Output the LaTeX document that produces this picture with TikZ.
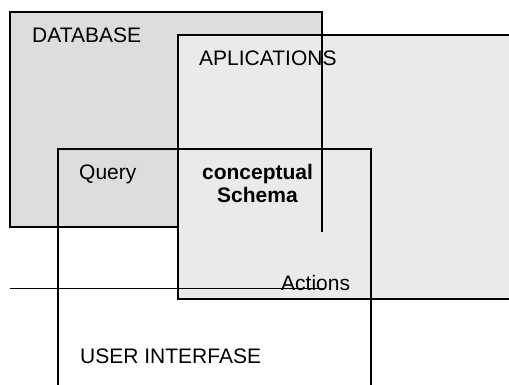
\documentclass[tikz,border=0pt]{standalone}
\usepackage{fontspec}
\setmainfont{Liberation Sans}
\definecolor{dbgray}{RGB}{221,221,221}
\definecolor{appgray}{RGB}{234,234,234}
\begin{document}
\begin{tikzpicture}[x=1pt,y=-1pt,
  box/.style={draw=black,line width=1.6pt,inner sep=0pt,outer sep=0pt,anchor=north west},
  lbl/.style={inner sep=0pt,anchor=base west,font=\fontsize{21}{24}\selectfont},
  edge/.style={draw=black,line width=1.6pt}]
\useasboundingbox (0,0) rectangle (509,385);
\clip (0,0) rectangle (509,385);
\fill[white] (0,0) rectangle (509,385);
\node[box,fill=dbgray,minimum width=312pt,minimum height=215pt] (db) at (10,12) {};
\node[box,fill=appgray,minimum width=345pt,minimum height=264pt] (app) at (178,35) {};
\coordinate (dbtr) at (322,12);
\coordinate (dbend) at (322,232);
\draw[edge] (dbtr) -- (dbend);
\coordinate (hl) at (10,288.5);
\coordinate (hr) at (325,288.5);
\draw[edge] (hl) -- (hr);
\node[box,minimum width=313pt,minimum height=260pt] (ui) at (58,149) {};
\node[lbl] (tdb) at (32,43) {DATABASE};
\node[lbl] (tapp) at (199,66) {APLICATIONS};
\node[lbl] (tq) at (79,180) {Query};
\node[inner sep=0pt,anchor=base,font=\fontsize{21}{24}\selectfont\bfseries,align=center] (tcs) at (257.5,203) {conceptual\\Schema};
\node[lbl] (tact) at (281,290) {Actions};
\node[lbl] (tui) at (80,363) {USER INTERFASE};
\end{tikzpicture}
\end{document}
